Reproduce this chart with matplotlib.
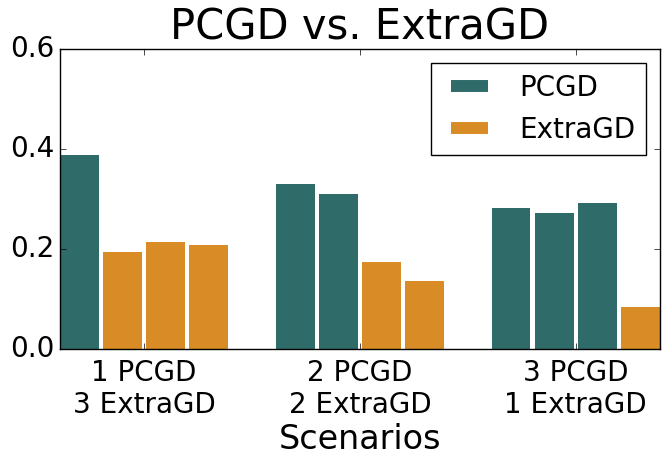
import numpy as np
import matplotlib
matplotlib.use('Agg')
import matplotlib.pyplot as plt
from matplotlib.lines import Line2D

plt.style.use('classic')

scenarios = ['1 PCGD\n3 ExtraGD', '2 PCGD\n2 ExtraGD', '3 PCGD\n1 ExtraGD']
# value of each of the 4 bars in a scenario, and which method it is
values = [
    [0.388, 0.193, 0.213, 0.208],
    [0.330, 0.310, 0.173, 0.135],
    [0.282, 0.271, 0.292, 0.083],
]
methods = [
    ['PCGD', 'ExtraGD', 'ExtraGD', 'ExtraGD'],
    ['PCGD', 'PCGD', 'ExtraGD', 'ExtraGD'],
    ['PCGD', 'PCGD', 'PCGD', 'ExtraGD'],
]
colors = {'PCGD': '#2f6b69', 'ExtraGD': '#d98c25'}

fig = plt.figure(figsize=(6.69, 4.65), dpi=100, facecolor='white')
ax = fig.add_axes([0.0897, 0.2495, 0.8968, 0.6451])

step = 0.2
width = 0.18
x = np.arange(len(scenarios))
for i in range(len(scenarios)):
    for k in range(4):
        ax.bar(x[i] + (k - 1.5) * step, values[i][k], width,
               color=colors[methods[i][k]], edgecolor='none', align='center')

ax.set_xlim(-0.39, 2.39)
ax.set_ylim(0, 0.6)
ax.set_yticks([0.0, 0.2, 0.4, 0.6])
ax.set_xticks(x)
ax.set_xticklabels(scenarios, linespacing=1.2)
ax.tick_params(labelsize=20)
ax.tick_params(axis='x', pad=7)
ax.set_xlabel('Scenarios', fontsize=24, labelpad=3)
ax.set_title('PCGD vs. ExtraGD', fontsize=30, y=1.01)

handles = [Line2D([], [], color=colors['PCGD'], lw=8.6, solid_capstyle='butt'),
           Line2D([], [], color=colors['ExtraGD'], lw=8.6, solid_capstyle='butt')]
ax.legend(handles, ['PCGD', 'ExtraGD'], loc='upper right', fontsize=20,
          handlelength=1.95, fancybox=False)

fig.savefig('out.png', dpi=100, facecolor='white')
